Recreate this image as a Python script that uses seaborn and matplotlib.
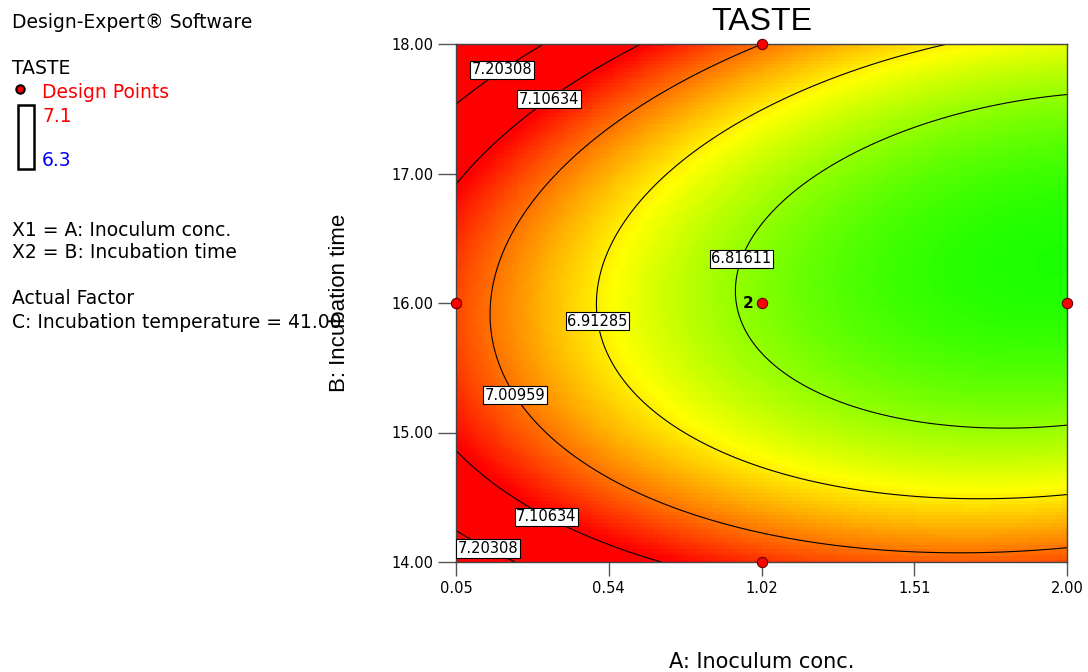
import numpy as np
import pandas as pd
import matplotlib
matplotlib.use("Agg")
import matplotlib.pyplot as plt
import seaborn as sns
from matplotlib.colors import LinearSegmentedColormap
from matplotlib.patches import Rectangle
from matplotlib.lines import Line2D

# quadratic model of TASTE in coded units (a: A coded -1..1, b: B coded -1..1)
# terms: intercept, a, b, a^2, b^2, ab
coef = [6.8024, -0.159, -0.026, 0.084, 0.2337, -0.0519]
a_range = [0.05, 2.00]
b_range = [14.0, 18.0]

levels = [6.81611, 6.91285, 7.00959, 7.10634, 7.20308]
level_text = ['6.81611', '6.91285', '7.00959', '7.10634', '7.20308']

x_ticks = ['0.05', '0.54', '1.02', '1.51', '2.00']
y_ticks = ['14.00', '15.00', '16.00', '17.00', '18.00']

design_a = [0.05, 1.025, 1.025, 2.00, 1.025]
design_b = [16.0, 18.0, 16.0, 16.0, 14.0]
design_reps = [1, 1, 2, 1, 1]

color_low, color_high = 6.3, 7.1

# where the contour labels sit (A, B)
label_pos = [(0.177, 17.876), (0.337, 17.606), (0.948, 16.355), (0.506, 15.861),
             (0.254, 15.313), (0.353, 14.417), (0.165, 14.17)]

sns.set_style("white")
plt.rcParams['font.family'] = ['DejaVu Sans']
plt.rcParams['text.color'] = 'black'
plt.rcParams['axes.labelcolor'] = 'black'
plt.rcParams['xtick.color'] = 'black'
plt.rcParams['ytick.color'] = 'black'

W, H = 1088, 672
fig = plt.figure(figsize=(W / 100, H / 100), dpi=100)

def fx(px):
    return px / W

def fy(py):
    return 1 - py / H

ax = fig.add_axes([fx(456), fy(562), (1067 - 456) / W, (562 - 44) / H])

A = np.linspace(a_range[0], a_range[1], 160)
B = np.linspace(b_range[0], b_range[1], 140)
AA, BB = np.meshgrid(A, B)
ca = (AA - np.mean(a_range)) / (np.diff(a_range)[0] / 2)
cb = (BB - np.mean(b_range)) / (np.diff(b_range)[0] / 2)
Z = (coef[0] + coef[1] * ca + coef[2] * cb + coef[3] * ca ** 2
     + coef[4] * cb ** 2 + coef[5] * ca * cb)

cmap = LinearSegmentedColormap.from_list(
    'de', ['#0000ff', '#00ffff', '#00ff00', '#ffff00', '#ff0000'])
ax.pcolormesh(A, B, Z, cmap=cmap, vmin=color_low, vmax=color_high, shading='nearest')

cs = ax.contour(AA, BB, Z, levels=levels, colors='black', linewidths=0.8)
lbls = ax.clabel(cs, fmt=dict(zip(cs.levels, level_text)), manual=label_pos,
                 inline=False, fontsize=10.5)
for t in lbls:
    t.set_rotation(0)
    t.set_bbox(dict(facecolor='white', edgecolor='black', linewidth=0.8, pad=1.2))

pts = pd.DataFrame({'A': design_a, 'B': design_b, 'reps': design_reps})
sns.scatterplot(data=pts, x='A', y='B', ax=ax, color='red', edgecolor='#600000',
                linewidth=0.8, s=55, zorder=6, clip_on=False, legend=False)
for a, b, n in zip(design_a, design_b, design_reps):
    if n > 1:
        ax.annotate(str(n), (a, b), xytext=(-6, 0), textcoords='offset points',
                    ha='right', va='center', fontsize=11, fontweight='bold')

ax.set_xlim(a_range)
ax.set_ylim(b_range)
ax.set_xticks(np.linspace(a_range[0], a_range[1], len(x_ticks)))
ax.set_xticklabels(x_ticks)
ax.set_yticks(np.linspace(b_range[0], b_range[1], len(y_ticks)))
ax.set_yticklabels(y_ticks)
ax.tick_params(axis='x', direction='out', length=10, width=1, color='#555555',
               labelsize=10.5, pad=4, bottom=True)
ax.tick_params(axis='y', direction='out', length=13, width=1, color='#555555',
               labelsize=10.5, pad=3, left=True)
for s in ax.spines.values():
    s.set_color('#444444')
    s.set_linewidth(1)

ax.set_title('TASTE', fontsize=23, family='Liberation Sans', pad=10)
ax.set_xlabel('A: Inoculum conc.', fontsize=15, labelpad=40)
ax.set_ylabel('B: Incubation time', fontsize=16, family='Liberation Sans', labelpad=30)

# left-hand info panel
txt = dict(fontsize=13.5, va='center', ha='left')
fig.text(fx(12), fy(22), 'Design-Expert® Software', **txt)
fig.text(fx(12), fy(69), 'TASTE', **txt)
fig.add_artist(Line2D([fx(20)], [fy(89)], marker='o', color='red', mec='black',
                      ms=6, mew=1.5, transform=fig.transFigure))
fig.text(fx(42), fy(92), 'Design Points', color='red', **txt)
fig.add_artist(Rectangle((fx(18), fy(169)), 16 / W, 64 / H, fill=False,
                         ec='black', lw=1.8, transform=fig.transFigure))
fig.text(fx(42), fy(116), '7.1', color='red', **txt)
fig.text(fx(42), fy(161), '6.3', color='blue', **txt)
fig.text(fx(12), fy(230), 'X1 = A: Inoculum conc.', **txt)
fig.text(fx(12), fy(253), 'X2 = B: Incubation time', **txt)
fig.text(fx(12), fy(299), 'Actual Factor', **txt)
fig.text(fx(12), fy(323), 'C: Incubation temperature = 41.00', **txt)

fig.savefig('out.png', dpi=100)
